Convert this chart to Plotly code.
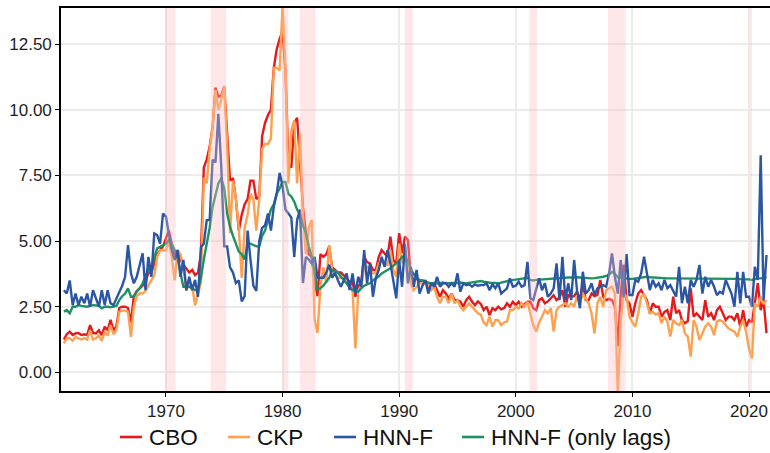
import pandas as pd
import plotly.graph_objects as go

# Quarterly values, 1961Q2 .. 2021Q3 (one row per year)
cbo = [
    1.25, 1.45, 1.55,
    1.42, 1.48, 1.50, 1.42,  1.45, 1.42, 1.80, 1.50,  1.48, 1.60, 1.42, 1.74,
    1.60, 2.00, 1.60, 1.75,  2.45, 2.50, 2.50, 2.45,  1.90, 2.90, 3.10, 3.20,
    3.30, 3.45, 3.80, 3.80,  4.15, 4.50, 4.65, 4.80,  5.10, 5.40, 4.90, 4.45,
    4.65, 4.30, 4.10, 3.95,  3.80, 3.90, 3.70, 3.80,  4.50, 7.80, 8.10, 8.60,
    9.35, 10.85, 10.50, 10.55,  10.90, 9.10, 7.30, 7.40,  6.60, 5.40, 6.00, 6.40,
    6.60, 7.30, 7.30, 6.60,  6.70, 9.00, 9.50, 9.80,  10.00, 11.60, 12.30, 12.70,
    13.00, 11.50, 8.00, 7.80,  9.50, 9.70, 8.10, 6.30,  5.30, 4.50, 4.40, 3.50,
    2.90, 4.50, 4.40, 4.50,  4.80, 4.00, 3.90, 3.80,  3.80, 3.70, 3.58, 3.45,
    3.45, 2.88, 3.26, 3.45,  4.40, 4.20, 4.15, 3.90,  3.90, 4.40, 4.66, 4.53,
    4.40, 5.17, 4.28, 4.15,  5.30, 4.53, 5.17, 5.04,  3.64, 3.50, 3.58, 3.45,
    3.50, 3.45, 3.26, 3.39,  3.39, 3.13, 2.88, 3.13,  3.00, 2.82, 3.00, 2.75,
    2.75, 2.69, 2.50, 2.75,  2.88, 2.69, 2.56, 2.70,  2.60, 2.37, 2.50, 2.18,
    2.44, 2.37, 2.50, 2.40,  2.45, 2.63, 2.50, 2.69,  2.56, 2.69, 2.50, 2.60,
    2.69, 2.69, 2.44, 2.37,  2.75, 2.82, 2.63, 2.70,  2.82, 2.94, 2.75, 2.85,
    3.13, 2.50, 2.94, 2.88,  2.90, 3.07, 2.75, 3.39,  2.75, 2.75, 3.00, 2.90,
    2.95, 3.52, 2.88, 2.75,  2.80, 2.75, 2.50, 1.00,  3.00, 4.10, 2.75, 2.63,
    2.12, 2.63, 3.00, 3.13,  2.94, 2.75, 2.25, 2.63,  2.50, 2.50, 2.12, 2.30,
    2.37, 1.99, 2.88, 2.25,  2.37, 1.99, 1.87, 1.95,  3.20, 2.12, 2.25, 2.10,
    1.99, 2.75, 2.12, 2.25,  1.99, 2.37, 2.50, 2.25,  1.99, 2.12, 2.12, 1.99,
    2.25, 1.74, 2.37, 1.74,  1.99, 1.90, 2.75, 3.40,  2.37, 2.75, 1.49,
]
ckp = [
    1.10, 1.30, 1.30,
    1.20, 1.35, 1.30, 1.25,  1.30, 1.25, 1.60, 1.25,  1.30, 1.40, 1.20, 1.55,
    1.40, 1.80, 1.45, 1.60,  2.30, 2.35, 2.35, 2.30,  1.35, 2.50, 2.90, 3.00,
    3.00, 3.10, 3.30, 3.50,  3.70, 4.40, 4.65, 4.65,  4.65, 5.00, 4.40, 3.50,
    4.65, 4.50, 4.00, 3.10,  3.40, 3.30, 2.55, 3.00,  3.40, 7.40, 7.20, 8.50,
    9.35, 10.75, 10.00, 10.40,  10.90, 8.70, 5.30, 7.30,  6.60, 5.50, 3.60, 5.50,
    6.00, 6.80, 6.60, 5.40,  6.60, 8.50, 8.70, 8.70,  8.90, 11.60, 11.60, 11.50,
    13.95, 11.60, 7.20, 9.20,  9.60, 7.20, 9.10, 6.00,  4.50, 5.50, 5.80, 2.00,
    1.50, 3.30, 4.00, 3.40,  4.85, 3.90, 3.70, 3.60,  3.60, 3.60, 3.39, 3.26,
    3.13, 0.91, 3.13, 3.26,  4.02, 4.02, 3.90, 3.77,  3.77, 4.15, 4.28, 4.09,
    4.09, 4.66, 3.90, 3.64,  4.90, 4.15, 4.78, 4.15,  3.39, 3.13, 3.26, 3.39,
    3.39, 3.39, 3.39, 3.13,  3.26, 2.88, 2.63, 2.88,  2.88, 2.63, 3.00, 2.63,
    2.75, 2.50, 2.37, 2.50,  2.63, 2.50, 2.37, 2.25,  2.20, 1.90, 1.80, 2.12,
    1.74, 1.99, 1.99, 1.80,  1.90, 1.93, 2.37, 2.37,  2.50, 2.44, 2.63, 2.50,
    2.69, 2.25, 1.80, 1.55,  1.90, 2.12, 2.37, 2.25,  2.44, 1.55, 2.37, 2.50,
    2.55, 2.63, 2.50, 2.63,  2.50, 2.88, 2.63, 3.00,  2.80, 2.63, 2.25, 1.48,
    2.63, 2.88, 2.50, 3.13,  3.20, 3.26, 3.00, -0.90,  2.00, 3.00, 2.88, 2.12,
    1.90, 1.74, 2.25, 2.88,  3.00, 2.63, 2.25, 2.30,  2.20, 2.25, 1.87, 2.12,
    1.93, 1.36, 1.99, 1.87,  1.80, 1.99, 1.49, 1.36,  0.60, 1.99, 1.74, 1.23,
    1.50, 1.74, 1.87, 1.74,  1.42, 1.93, 1.99, 1.93,  1.80, 1.67, 1.61, 1.55,
    1.36, 1.74, 1.99, 1.55,  0.90, 0.53, 2.63, 2.50,  2.88, 2.60, 2.75,
]
hnn_f = [
    3.13, 3.00, 3.50,
    2.56, 3.00, 2.56, 2.88,  2.63, 3.00, 2.50, 3.13,  2.82, 2.50, 3.13, 2.56,
    3.13, 2.63, 2.56, 2.80,  3.00, 3.30, 3.64, 4.85,  3.77, 3.39, 3.64, 4.09,
    4.53, 3.13, 4.40, 3.64,  5.29, 5.23, 4.90, 6.05,  5.93, 5.29, 4.66, 4.28,
    4.66, 3.64, 4.28, 3.13,  3.64, 3.13, 3.52, 2.88,  4.78, 4.90, 5.80, 5.80,
    8.10, 8.00, 9.85, 7.80,  4.80, 4.80, 4.00, 3.80,  3.40, 3.50, 2.70, 2.90,
    5.40, 4.30, 3.30, 3.10,  5.00, 5.50, 5.60, 6.05,  5.40, 6.30, 6.80, 7.60,
    7.10, 6.20, 6.05, 5.90,  4.40, 5.80, 6.20, 3.40,  4.40, 4.30, 4.15, 4.40,
    3.60, 3.60, 3.60, 3.80,  4.10, 3.60, 3.80, 3.50,  3.26, 3.50, 3.77, 3.13,
    3.77, 3.00, 3.64, 3.26,  4.66, 3.39, 4.15, 2.88,  3.60, 3.90, 4.40, 4.02,
    4.66, 4.15, 3.52, 2.82,  4.28, 3.26, 4.90, 3.39,  4.02, 3.26, 3.90, 3.00,
    3.30, 3.52, 3.00, 3.39,  3.26, 3.64, 3.26, 3.39,  3.40, 3.26, 3.39, 3.26,
    3.77, 3.07, 3.39, 3.32,  3.35, 3.26, 3.35, 3.30,  3.32, 3.32, 3.39, 3.13,
    3.35, 3.20, 3.39, 3.00,  3.10, 3.20, 3.58, 3.26,  3.30, 3.45, 3.26, 3.32,
    4.21, 2.82, 2.75, 3.13,  3.58, 3.13, 3.39, 2.88,  3.00, 3.20, 4.15, 2.75,
    4.40, 2.75, 3.39, 2.75,  4.28, 3.13, 2.44, 3.83,  3.00, 3.13, 3.39, 2.94,
    3.20, 3.26, 3.32, 3.26,  3.77, 4.53, 3.64, 3.00,  4.28, 2.85, 4.50, 2.94,
    2.94, 3.52, 3.45, 3.77,  4.40, 3.77, 3.13, 3.52,  3.26, 3.39, 3.13, 3.52,
    3.20, 3.32, 3.07, 2.88,  4.02, 2.63, 3.26, 2.63,  3.52, 3.26, 3.52, 4.09,
    3.00, 3.64, 3.26, 3.52,  3.26, 2.94, 3.07, 3.00,  3.52, 3.26, 3.00, 2.50,
    3.83, 2.63, 3.83, 2.88,  2.88, 2.50, 4.02, 3.52,  8.27, 2.75, 4.47,
]
hnn_f_lags = [
    2.31, 2.37, 2.25,
    2.50, 2.50, 2.56, 2.53,  2.50, 2.50, 2.53, 2.56,  2.55, 2.53, 2.44, 2.50,
    2.50, 2.48, 2.50, 2.53,  2.75, 2.90, 3.00, 3.20,  2.88, 2.88, 3.07, 3.20,
    3.39, 3.64, 3.90, 4.00,  4.40, 4.72, 4.78, 4.85,  4.90, 5.04, 4.90, 4.66,
    4.40, 3.77, 3.26, 3.26,  3.26, 3.20, 3.13, 3.13,  3.60, 4.30, 4.90, 5.50,
    6.30, 6.80, 7.20, 7.40,  7.00, 6.05, 5.55, 5.20,  4.90, 4.60, 4.50, 4.30,
    4.90, 4.90, 4.85, 4.80,  4.80, 5.20, 5.40, 5.80,  6.20, 6.40, 6.80, 7.00,
    7.25, 7.25, 6.80, 6.70,  6.50, 6.20, 6.00, 5.60,  5.30, 4.80, 4.40, 3.80,
    3.15, 3.20, 3.30, 3.45,  3.60, 3.90, 3.85, 3.80,  3.64, 3.50, 3.39, 3.25,
    3.13, 3.10, 3.07, 3.20,  3.30, 3.35, 3.39, 3.50,  3.58, 3.65, 3.77, 3.85,
    3.90, 3.96, 4.05, 4.15,  4.25, 4.40, 4.35, 4.28,  3.90, 3.77, 3.60, 3.52,
    3.50, 3.45, 3.42, 3.39,  3.40, 3.38, 3.40, 3.42,  3.39, 3.40, 3.41, 3.40,
    3.40, 3.42, 3.40, 3.39,  3.41, 3.43, 3.45, 3.46,  3.48, 3.45, 3.43, 3.42,
    3.40, 3.40, 3.39, 3.42,  3.45, 3.48, 3.50, 3.52,  3.53, 3.55, 3.56, 3.58,
    3.60, 3.52, 3.50, 3.52,  3.53, 3.54, 3.55, 3.56,  3.57, 3.58, 3.58, 3.59,
    3.60, 3.60, 3.61, 3.61,  3.62, 3.62, 3.61, 3.60,  3.60, 3.59, 3.58, 3.59,
    3.60, 3.62, 3.64, 3.67,  3.72, 3.83, 3.75, 3.62,  3.60, 3.58, 3.57, 3.56,
    3.56, 3.58, 3.60, 3.62,  3.64, 3.64, 3.62, 3.61,  3.60, 3.60, 3.59, 3.58,
    3.58, 3.58, 3.58, 3.57,  3.57, 3.58, 3.58, 3.58,  3.58, 3.58, 3.57, 3.57,
    3.57, 3.58, 3.58, 3.57,  3.57, 3.57, 3.56, 3.56,  3.56, 3.57, 3.57, 3.56,
    3.56, 3.55, 3.55, 3.54,  3.54, 3.52, 3.56, 3.58,  3.58, 3.60, 3.62,
]

# NBER recessions (start, end)
rec_start = ["1969-12-01", "1973-11-01", "1980-01-01", "1981-07-01",
             "1990-07-01", "2001-03-01", "2007-12-01", "2020-02-01"]
rec_end = ["1970-11-01", "1975-03-01", "1980-07-01", "1982-11-01",
           "1991-03-01", "2001-11-01", "2009-06-01", "2020-04-01"]

y_ticks = [0, 2.5, 5, 7.5, 10, 12.5]
x_ticks = ["1970-01-01", "1980-01-01", "1990-01-01", "2000-01-01",
           "2010-01-01", "2020-01-01"]
x_ticklabels = ["1970", "1980", "1990", "2000", "2010", "2020"]

dates = pd.date_range("1961-04-01", periods=len(cbo), freq="QS")

legend_names = ["CBO", "CKP", "HNN-F", "HNN-F (only lags)"]
legend_colors = ["#E41A1C", "#FDA04F", "#2A56A3", "#1E9160"]
series_values = {"CBO": cbo, "CKP": ckp, "HNN-F": hnn_f,
                 "HNN-F (only lags)": hnn_f_lags}
draw_order = ["CBO", "CKP", "HNN-F (only lags)", "HNN-F"]

fig = go.Figure()
for name in draw_order:
    col = legend_colors[legend_names.index(name)]
    fig.add_trace(go.Scatter(
        x=dates, y=series_values[name], mode="lines", name=name,
        line=dict(color=col, width=2.4), showlegend=False,
    ))

for s, e in zip(rec_start, rec_end):
    fig.add_shape(type="rect", xref="x", yref="paper", x0=s, x1=e, y0=0, y1=1,
                  fillcolor="rgba(255,182,193,0.35)", line=dict(width=0),
                  layer="above")

# ---- manual legend (pixel layout converted to paper coords) ----
L, R, T, B = 61, 770, 8, 391
def px_x(px):
    return (px - L) / (R - L)
def px_y(py):
    return (B - py) / (B - T)

key_left = [120, 228, 334, 462]
key_len = 22
text_gap = 6
leg_y = 437
for name, col, kx in zip(legend_names, legend_colors, key_left):
    fig.add_shape(type="line", xref="paper", yref="paper",
                  x0=px_x(kx), x1=px_x(kx + key_len),
                  y0=px_y(leg_y), y1=px_y(leg_y),
                  line=dict(color=col, width=2.6))
    fig.add_annotation(xref="paper", yref="paper", x=px_x(kx + key_len + text_gap),
                       y=px_y(leg_y), text=name, showarrow=False,
                       xanchor="left", yanchor="middle", borderpad=0,
                       font=dict(size=22.5, color="#111111"))

font_family = "Liberation Sans, Arial, sans-serif"
fig.update_layout(
    width=770, height=453,
    margin=dict(l=L, r=0, t=T, b=453 - B),
    paper_bgcolor="white", plot_bgcolor="white",
    font=dict(family=font_family, size=17, color="#222222"),
    showlegend=False,
)
fig.update_xaxes(
    range=["1961-01-01", "2021-10-19"],
    tickvals=x_ticks, ticktext=x_ticklabels,
    showgrid=True, gridcolor="#EBEBEB", gridwidth=1.6,
    showline=True, linecolor="black", linewidth=1.6, mirror=True,
    ticks="outside", ticklen=4, tickcolor="black", tickwidth=1.4,
    zeroline=False, tickfont=dict(size=17, color="#1E1E1E"),
)
fig.update_yaxes(
    range=[-0.712, 13.88],
    tickvals=y_ticks, tickformat=".2f",
    showgrid=True, gridcolor="#EBEBEB", gridwidth=1.6,
    showline=True, linecolor="black", linewidth=1.6,
    ticks="outside", ticklen=4, tickcolor="black", tickwidth=1.4,
    zeroline=False, tickfont=dict(size=17, color="#1E1E1E"),
)

fig.write_html("out.html")
